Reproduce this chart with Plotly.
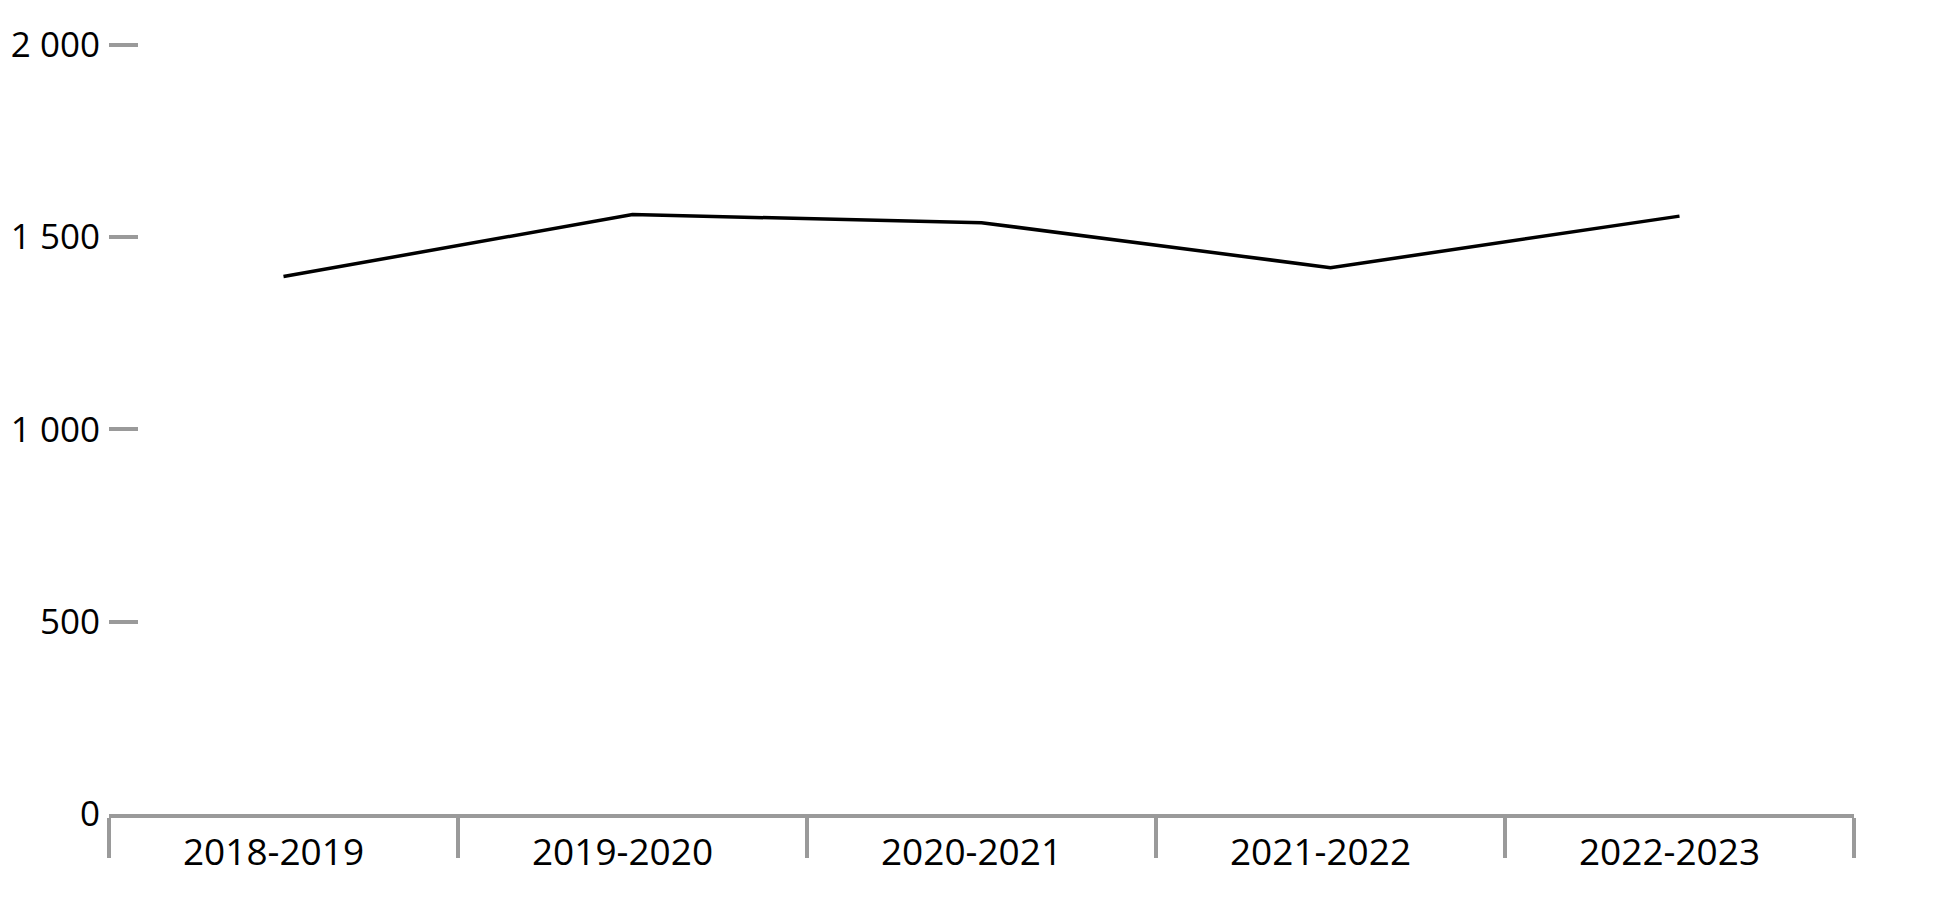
import plotly.graph_objects as go

# school years and the plotted totals
years = ['2018-2019', '2019-2020', '2020-2021', '2021-2022', '2022-2023']
totals = [1397, 1558, 1537, 1420, 1554]

yTicks = [0, 500, 1000, 1500, 2000]

grey = '#9a9a9a'
fontFamily = 'Open Sans'


fig = go.Figure()

fig.add_trace(
    go.Scatter(
        x=years,
        y=totals,
        mode='lines',
        line=dict(color='black', width=3.5),
        showlegend=False,
        hoverinfo='skip',
    )
)


# axes styling (page body adds an 8px offset, margins compensate)
fig.update_layout(
    width=1950,
    height=900,
    margin=dict(l=101, r=104, t=34.5, b=94, autoexpand=False),
    paper_bgcolor='white',
    plot_bgcolor='white',
    separators=', ',
    font=dict(family=fontFamily, size=37, color='black'),
    xaxis=dict(
        type='category',
        range=[-0.5, 4.5],
        showgrid=False,
        zeroline=False,
        showline=True,
        linecolor=grey,
        linewidth=3.5,
        ticks='outside',
        tickson='boundaries',
        ticklen=40,
        tickwidth=3.5,
        tickcolor=grey,
        ticklabelstandoff=3,
        ticklabelshift=-10,
        automargin=False,
        fixedrange=True,
    ),
    yaxis=dict(
        range=[0, 2004],
        tickvals=yTicks,
        tickformat=',d',
        tickfont=dict(size=35),
        showgrid=False,
        zeroline=False,
        showline=False,
        ticks='inside',
        ticklen=29,
        tickwidth=3.5,
        tickcolor=grey,
        ticklabelstandoff=8,
        automargin=False,
        fixedrange=True,
    ),
)

fig.write_html("out.html")
